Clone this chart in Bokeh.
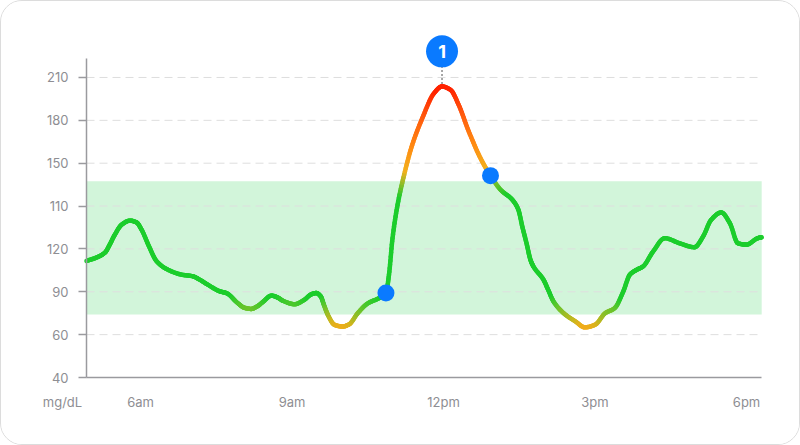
import numpy as np
from bokeh.plotting import figure
from bokeh.models import Range1d, FixedTicker, LinearAxis
from bokeh.embed import file_html
from bokeh.resources import INLINE
from bokeh.core.properties import value

# ---------------- data ----------------
# time of day (hours) and glucose reading expressed in axis-position units
time_h = [4.93, 5.13, 5.30, 5.39, 5.49, 5.63, 5.79, 5.92, 6.02, 6.16,
          6.32, 6.55, 6.81, 7.04, 7.16, 7.34, 7.57, 7.70, 7.93, 8.05,
          8.19, 8.31, 8.43, 8.59, 8.71, 8.82, 9.05, 9.24, 9.38, 9.48,
          9.57, 9.63, 9.71, 9.84, 10.00, 10.13, 10.30, 10.50, 10.72, 10.86,
          10.92, 10.99, 11.09, 11.22, 11.38, 11.58, 11.81, 11.97, 12.14, 12.30,
          12.50, 12.73, 12.93, 13.13, 13.36, 13.48, 13.56, 13.65, 13.72, 13.78,
          13.98, 14.07, 14.18, 14.38, 14.61, 14.80, 15.00, 15.20, 15.39, 15.56,
          15.69, 15.82, 15.95, 16.15, 16.38, 16.68, 16.97, 17.14, 17.30, 17.50,
          17.67, 17.83, 18.00, 18.22, 18.30]
glucose_pos = [2.72, 2.80, 2.92, 3.10, 3.33, 3.57, 3.66, 3.62, 3.45, 3.08,
               2.71, 2.51, 2.40, 2.36, 2.29, 2.16, 2.01, 1.97, 1.73, 1.63,
               1.60, 1.66, 1.77, 1.91, 1.87, 1.79, 1.71, 1.81, 1.94, 1.97,
               1.89, 1.70, 1.46, 1.23, 1.19, 1.24, 1.50, 1.73, 1.85, 1.97,
               2.40, 3.25, 4.03, 4.73, 5.43, 6.05, 6.63, 6.79, 6.71, 6.36,
               5.74, 5.12, 4.71, 4.38, 4.15, 3.92, 3.52, 3.10, 2.75, 2.59,
               2.28, 2.05, 1.77, 1.50, 1.31, 1.17, 1.23, 1.50, 1.62, 2.01,
               2.40, 2.51, 2.59, 2.94, 3.25, 3.13, 3.04, 3.29, 3.68, 3.85,
               3.60, 3.13, 3.10, 3.25, 3.27]

y_tick_pos = [0, 1, 2, 3, 4, 5, 6, 7]
y_tick_labels = ["40", "60", "90", "120", "110", "150", "180", "210"]
x_tick_pos = [6, 9, 12, 15, 18]
x_tick_labels = ["6am", "9am", "12pm", "3pm", "6pm"]
unit_label = ["mg/dL"]

target_low = 1.47
target_high = 4.58

event_times = [10.86, 12.93]
event_pos = [1.97, 4.71]

marker_labels = ["1"]

# ---------------- layout / styling ----------------
X_START, X_END = 4.93, 18.30          # extent of the plotting area
PX_PER_H = 50.5
PX_PER_LVL = 42.86
VIEW_X = (X_START - 85 / PX_PER_H, X_START + 715 / PX_PER_H)
VIEW_Y = (-69 / PX_PER_LVL, 376 / PX_PER_LVL)
AXIS_TOP = 7.44
MARKER_LIFT = 0.82
UNIT_X = X_START - 24 / PX_PER_H
UNIT_Y = -24 / PX_PER_LVL
TEXT_COLOR = "#8e8e93"
AXIS_COLOR = "#9a9a9e"
BLUE = "#0a7aff"
FONT = "Inter"

color_stops_pos = [1.15, 1.30, 1.50, 1.65, 1.88, 4.25, 4.55, 4.85, 5.40, 6.10, 6.70]
color_stops_hex = ["#f6ab1a", "#cdb61e", "#8cbf28", "#5cc62c", "#1ccd2c", "#1ccd2c",
                   "#8cbc28", "#f2b01e", "#ff8c12", "#ff5a0e", "#ff2400"]


def hex_to_rgb(h):
    h = h.lstrip("#")
    return [int(h[i:i + 2], 16) for i in (0, 2, 4)]


stop_rgb = np.array([hex_to_rgb(c) for c in color_stops_hex], dtype=float)


def color_for(level):
    r = np.interp(level, color_stops_pos, stop_rgb[:, 0])
    g = np.interp(level, color_stops_pos, stop_rgb[:, 1])
    b = np.interp(level, color_stops_pos, stop_rgb[:, 2])
    return "#%02x%02x%02x" % (int(round(r)), int(round(g)), int(round(b)))


def smooth_path(x, y, n=10):
    """Monotone cubic rendering of the line (like a 'smooth' line option)."""
    x = np.asarray(x, float)
    y = np.asarray(y, float)
    h = np.diff(x)
    d = np.diff(y) / h
    m = np.zeros_like(y)
    m[0], m[-1] = d[0], d[-1]
    for i in range(1, len(x) - 1):
        if d[i - 1] * d[i] <= 0:
            m[i] = 0.0
        else:
            m[i] = 3 * (h[i - 1] + h[i]) / ((2 * h[i] + h[i - 1]) / d[i - 1] +
                                            (h[i] + 2 * h[i - 1]) / d[i])
    xs, ys = [x[0]], [y[0]]
    for i in range(len(x) - 1):
        for t in np.linspace(0, 1, n + 1)[1:]:
            h00 = 2 * t ** 3 - 3 * t ** 2 + 1
            h10 = t ** 3 - 2 * t ** 2 + t
            h01 = -2 * t ** 3 + 3 * t ** 2
            h11 = t ** 3 - t ** 2
            xs.append(x[i] + t * h[i])
            ys.append(h00 * y[i] + h10 * h[i] * m[i] + h01 * y[i + 1] + h11 * h[i] * m[i + 1])
    return np.array(xs), np.array(ys)


p = figure(width=800, height=445, x_range=Range1d(*VIEW_X), y_range=Range1d(*VIEW_Y),
           output_backend="svg", toolbar_location=None, title=None,
           x_axis_location=None, y_axis_location=None, min_border=0)
p.outline_line_color = None
p.background_fill_color = "white"
p.border_fill_color = "white"
p.xgrid.visible = False
p.ygrid.visible = False
p.styles = {"border": "1px solid #dcdcdc", "border-radius": "22px",
            "box-sizing": "border-box", "overflow": "hidden"}

# target band
p.quad(left=[X_START], right=[X_END], bottom=[target_low], top=[target_high],
       fill_color="#d2f5da", line_color=None, level="image")

# dashed horizontal grid lines
g_y = y_tick_pos[1:]
p.segment(x0=[X_START] * len(g_y), y0=g_y, x1=[X_END] * len(g_y), y1=g_y,
          line_color="#dedede", line_width=1, line_dash="8 5", level="underlay")

# axes
yax = LinearAxis(fixed_location=X_START, bounds=(0, AXIS_TOP),
                 ticker=FixedTicker(ticks=y_tick_pos),
                 major_label_overrides={t: l for t, l in zip(y_tick_pos, y_tick_labels)},
                 major_tick_out=8, major_tick_in=0, minor_tick_line_color=None,
                 major_label_standoff=10)
xax = LinearAxis(fixed_location=0, bounds=(X_START, X_END),
                 ticker=FixedTicker(ticks=x_tick_pos),
                 major_label_overrides={t: l for t, l in zip(x_tick_pos, x_tick_labels)},
                 major_tick_out=0, major_tick_in=0, minor_tick_line_color=None,
                 major_label_standoff=16)
for ax in (xax, yax):
    ax.axis_line_color = AXIS_COLOR
    ax.axis_line_width = 1.5
    ax.major_tick_line_color = AXIS_COLOR
    ax.major_tick_line_width = 1.5
    ax.major_label_text_color = TEXT_COLOR
    ax.major_label_text_font = FONT
    ax.major_label_text_font_size = "13px"
p.add_layout(yax, "left")
p.add_layout(xax, "below")

# unit label under the y axis labels
p.text(x=[UNIT_X], y=[UNIT_Y], text=unit_label, text_color=TEXT_COLOR,
       text_font=value(FONT), text_font_size="13px", text_align="center",
       text_baseline="middle")

# glucose curve with gradient colouring
sx, sy = smooth_path(time_h, glucose_pos, n=10)
mid = (sy[:-1] + sy[1:]) / 2
cols = [color_for(v) for v in mid]
p.segment(x0=sx[:-1], y0=sy[:-1], x1=sx[1:], y1=sy[1:], line_color=cols,
          line_width=4.5, line_cap="round")

# event dots
p.scatter(event_times, event_pos, size=17, fill_color=BLUE, line_color=None)

# peak marker
ty = np.array(glucose_pos)
peak_i = int(np.argmax(ty))
peak_x = time_h[peak_i]
peak_y = ty[peak_i]
marker_y = peak_y + MARKER_LIFT
p.segment(x0=[peak_x], y0=[peak_y + 0.06], x1=[peak_x], y1=[marker_y],
          line_color="#8a8a8a", line_width=1.5, line_dash="2 2")
p.scatter([peak_x], [marker_y], size=32, fill_color=BLUE, line_color=None)
p.text(x=[peak_x], y=[marker_y], text=marker_labels, text_color="white",
       text_font=value(FONT), text_font_style="bold", text_font_size="18px",
       text_align="center", text_baseline="middle")

open("out.html", "w").write(file_html(p, INLINE))
